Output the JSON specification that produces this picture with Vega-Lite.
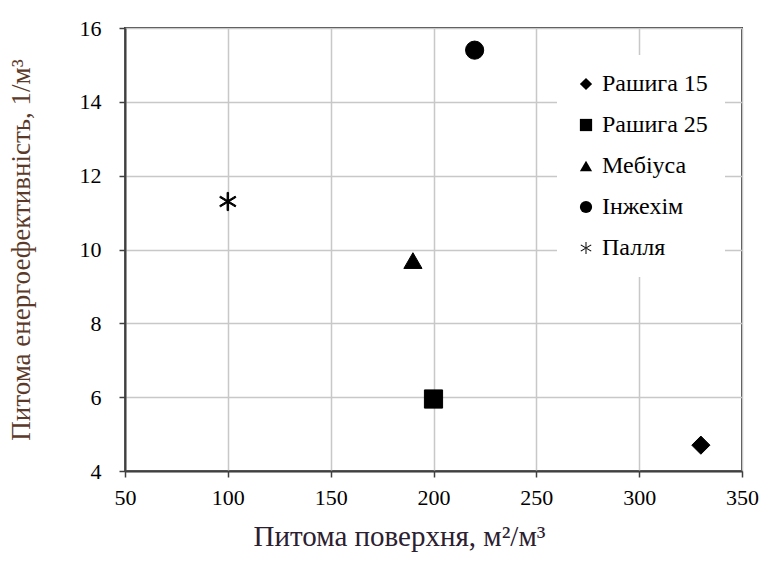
{
  "$schema": "https://vega.github.io/schema/vega-lite/v6.json",
  "width": 617,
  "height": 443,
  "autosize": {"type": "none"},
  "padding": {"left": 125, "top": 28, "right": 23, "bottom": 95},
  "background": "white",
  "config": {
    "view": {"stroke": "#404040", "strokeWidth": 2},
    "axis": {
      "titleFont": "Liberation Serif",
      "labelFont": "Liberation Serif",
      "labelColor": "black",
      "labelFontSize": 22,
      "titleFontSize": 27,
      "titleFontWeight": "normal",
      "domainColor": "#404040",
      "domainWidth": 2,
      "tickColor": "#404040",
      "tickWidth": 1.5,
      "tickSize": 6,
      "gridColor": "#c8c8c8",
      "gridWidth": 1.5
    }
  },
  "data": {
    "values": [
      {"x": 330, "y": 4.7, "type": "Рашига 15"},
      {"x": 200, "y": 5.95, "type": "Рашига 25"},
      {"x": 190, "y": 9.7, "type": "Мебіуса"},
      {"x": 220, "y": 15.4, "type": "Інжехім"},
      {"x": 100, "y": 11.3, "type": "Палля"}
    ]
  },
  "mark": {"type": "point", "filled": true, "fill": "black", "stroke": "black", "strokeWidth": 1, "opacity": 1, "size": 330},
  "encoding": {
    "x": {
      "field": "x",
      "type": "quantitative",
      "scale": {"domain": [50, 350], "nice": false, "zero": false},
      "axis": {
        "values": [50, 100, 150, 200, 250, 300, 350],
        "title": "Питома поверхня, м²/м³",
        "titleColor": "#2b2030",
        "titleFontSize": 29,
        "labelPadding": 10,
        "titlePadding": 14,
        "titleX": 274,
        "labelFlush": false
      }
    },
    "y": {
      "field": "y",
      "type": "quantitative",
      "scale": {"domain": [4, 16], "nice": false, "zero": false},
      "axis": {
        "values": [4, 6, 8, 10, 12, 14, 16],
        "title": "Питома енергоефективність, 1/м³",
        "titleColor": "#5b3a29",
        "labelPadding": 18,
        "titlePadding": 44,
        "labelFlush": false
      }
    },
    "shape": {
      "field": "type",
      "type": "nominal",
      "scale": {
        "domain": ["Рашига 15", "Рашига 25", "Мебіуса", "Інжехім", "Палля"],
        "range": ["diamond", "square", "triangle-up", "circle", "M-0.08,-1L0.08,-1L0.08,1L-0.08,1Z M0.811,0.589L0.895,0.453L-0.811,-0.589L-0.895,-0.453Z M0.895,-0.453L0.811,-0.589L-0.895,0.453L-0.811,0.589Z"]
      },
      "legend": {
        "title": null,
        "orient": "none",
        "legendX": 432,
        "legendY": 27,
        "fillColor": "white",
        "padding": 17,
        "rowPadding": 17,
        "symbolSize": 150,
        "symbolFillColor": "black",
        "symbolStrokeColor": "black",
        "symbolStrokeWidth": 1,
        "labelOffset": 4,
        "labelFont": "Liberation Serif",
        "labelFontSize": 24,
        "labelColor": "black"
      }
    }
  }
}
